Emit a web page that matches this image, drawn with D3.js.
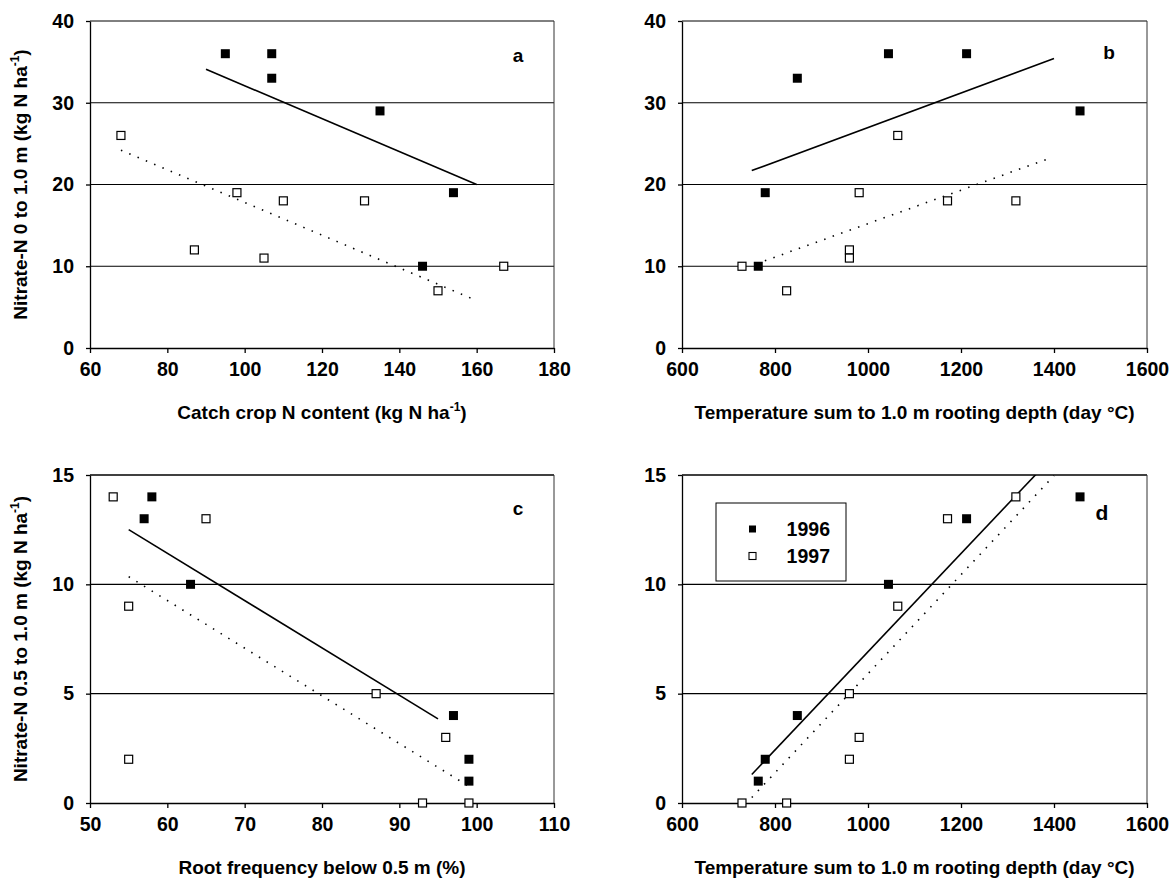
<!DOCTYPE html>
<html>
<head>
<meta charset="utf-8">
<script src="https://cdn.jsdelivr.net/npm/d3@7"></script>
<style>
  body { margin: 0; background: #fff; }
  text { font-family: "Liberation Sans", Arial, sans-serif; font-weight: bold; fill: #000; }
</style>
</head>
<body>
<div id="chart"></div>
<script>
// data
// panel a: catch crop N content vs nitrate-N 0-1.0 m
var catchN96 = [95, 107, 107, 135, 154, 146];
var nitrateA96 = [36, 36, 33, 29, 19, 10];
var catchN97 = [68, 98, 110, 131, 87, 105, 150, 167];
var nitrateA97 = [26, 19, 18, 18, 12, 11, 7, 10];

// panel b: temperature sum vs nitrate-N 0-1.0 m
var tempSum96 = [764, 779, 848, 1044, 1212, 1456];
var nitrateB96 = [10, 19, 33, 36, 36, 29];
var tempSum97 = [729, 825, 960, 960, 981, 1064, 1171, 1318];
var nitrateB97 = [10, 7, 12, 11, 19, 26, 18, 18];

// panel c: root frequency vs nitrate-N 0.5-1.0 m
var rootFreq96 = [58, 57, 63, 97, 99, 99];
var nitrateC96 = [14, 13, 10, 4, 2, 1];
var rootFreq97 = [53, 55, 55, 65, 87, 96, 93, 99];
var nitrateC97 = [14, 9, 2, 13, 5, 3, 0, 0];

// panel d: temperature sum vs nitrate-N 0.5-1.0 m
var nitrateD96 = [1, 2, 4, 10, 13, 14];
var nitrateD97 = [0, 0, 5, 2, 3, 9, 13, 14];

// trend lines (end points)
var trendA96 = [[90, 34.1], [160, 20.0]];
var trendA97 = [[68, 24.2], [159, 6.0]];
var trendB96 = [[750, 21.7], [1400, 35.4]];
var trendB97 = [[760, 10.3], [1390, 23.2]];
var trendC96 = [[55, 12.5], [95, 3.85]];
var trendC97 = [[55, 10.35], [99.5, 0.65]];
var trendD96 = [[750, 1.3], [1400, 15.9]];
var trendD97 = [[750, 0.25], [1400, 14.97]];

var yearLabels = ["1996", "1997"];

var svgWidth = 1171;
var svgHeight = 881;

var svg = d3.select("#chart")
  .append("svg")
  .attr("width", svgWidth)
  .attr("height", svgHeight);

function zip(xs, ys) {
  return xs.map(function(x, i) { return [x, ys[i]]; });
}

var panels = [
  { id: "a", left: 90, right: 554, top: 21, bottom: 348,
    xDomain: [60, 180], xTicks: d3.range(60, 181, 20),
    yDomain: [0, 40], yTicks: d3.range(0, 41, 10),
    filled: zip(catchN96, nitrateA96), open: zip(catchN97, nitrateA97),
    solid: trendA96, dotted: trendA97,
    xTitle: ["Catch crop N content (kg N ha", "-1", ")"],
    yTitle: ["Nitrate-N 0 to 1.0 m (kg N ha", "-1", ")"],
    letter: [518, 62], gridW: 1 },
  { id: "b", left: 682, right: 1147, top: 21, bottom: 348,
    xDomain: [600, 1600], xTicks: d3.range(600, 1601, 200),
    yDomain: [0, 40], yTicks: d3.range(0, 41, 10),
    filled: zip(tempSum96, nitrateB96), open: zip(tempSum97, nitrateB97),
    solid: trendB96, dotted: trendB97,
    xTitle: ["Temperature sum to 1.0 m rooting depth (day \u00B0C)"],
    yTitle: null,
    letter: [1109, 59], gridW: 1 },
  { id: "c", left: 90, right: 554, top: 475, bottom: 803,
    xDomain: [50, 110], xTicks: d3.range(50, 111, 10),
    yDomain: [0, 15], yTicks: d3.range(0, 16, 5),
    filled: zip(rootFreq96, nitrateC96), open: zip(rootFreq97, nitrateC97),
    solid: trendC96, dotted: trendC97,
    xTitle: ["Root frequency below 0.5 m (%)"],
    yTitle: ["Nitrate-N 0.5 to 1.0 m (kg N ha", "-1", ")"],
    letter: [518, 515], gridW: 1.4 },
  { id: "d", left: 682, right: 1147, top: 475, bottom: 803,
    xDomain: [600, 1600], xTicks: d3.range(600, 1601, 200),
    yDomain: [0, 15], yTicks: d3.range(0, 16, 5),
    filled: zip(tempSum96, nitrateD96), open: zip(tempSum97, nitrateD97),
    solid: trendD96, dotted: trendD97,
    xTitle: ["Temperature sum to 1.0 m rooting depth (day \u00B0C)"],
    yTitle: null,
    letter: [1102, 520], gridW: 1.4 }
];

function addTitle(sel, parts) {
  sel.append("tspan").text(parts[0]);
  if (parts.length > 1) {
    sel.append("tspan").attr("font-size", 12).attr("dy", -8).text(parts[1]);
    sel.append("tspan").attr("dy", 8).text(parts[2]);
  }
}

panels.forEach(function(p) {
  var x = d3.scaleLinear().domain(p.xDomain).range([p.left, p.right]);
  var y = d3.scaleLinear().domain(p.yDomain).range([p.bottom, p.top]);
  var g = svg.append("g").attr("class", "panel-" + p.id);

  // horizontal gridlines
  g.selectAll(".grid")
    .data(p.yTicks.slice(1))
    .enter()
    .append("line")
    .attr("x1", p.left)
    .attr("x2", p.right)
    .attr("y1", d => y(d))
    .attr("y2", d => y(d))
    .attr("stroke", "#000")
    .attr("stroke-width", p.gridW);

  // right border
  g.append("line")
    .attr("x1", p.right).attr("x2", p.right)
    .attr("y1", p.top).attr("y2", p.bottom)
    .attr("stroke", "#333")
    .attr("stroke-width", 1);

  // axes
  var bottomAxis = d3.axisBottom(x).tickValues(p.xTicks).tickFormat(d3.format("d"))
    .tickSize(5).tickSizeOuter(0);
  var leftAxis = d3.axisLeft(y).tickValues(p.yTicks).tickFormat(d3.format("d"))
    .tickSize(4).tickSizeOuter(0);

  var xAxis = g.append("g")
    .attr("transform", `translate(0, ${p.bottom})`)
    .call(bottomAxis);
  xAxis.selectAll("text")
    .attr("font-size", 19.5)
    .attr("y", 14)
    .attr("dy", "0.71em");

  var yAxis = g.append("g")
    .attr("transform", `translate(${p.left}, 0)`)
    .call(leftAxis);
  yAxis.selectAll("text")
    .attr("font-size", 19.5)
    .attr("x", -16);

  g.selectAll(".domain, .tick line")
    .attr("stroke", "#000")
    .attr("stroke-width", 1.3);
  g.selectAll(".tick text").attr("fill", "#000").attr("font-family", null);

  // trend lines, clipped to the plot box
  g.append("clipPath")
    .attr("id", "clip-" + p.id)
    .append("rect")
    .attr("x", p.left).attr("y", p.top)
    .attr("width", p.right - p.left).attr("height", p.bottom - p.top);

  var drawLine = d3.line().x(d => x(d[0])).y(d => y(d[1]));

  g.append("path")
    .datum(p.solid)
    .attr("clip-path", "url(#clip-" + p.id + ")")
    .attr("d", drawLine)
    .attr("fill", "none")
    .attr("stroke", "#000")
    .attr("stroke-width", 1.6);

  g.append("path")
    .datum(p.dotted)
    .attr("clip-path", "url(#clip-" + p.id + ")")
    .attr("d", drawLine)
    .attr("fill", "none")
    .attr("stroke", "#000")
    .attr("stroke-width", 1.6)
    .attr("stroke-dasharray", "1.5,7.5");

  // 1997 open squares
  g.selectAll(".open")
    .data(p.open)
    .enter()
    .append("rect")
    .attr("x", d => x(d[0]) - 4)
    .attr("y", d => y(d[1]) - 4)
    .attr("width", 8)
    .attr("height", 8)
    .attr("fill", "#fff")
    .attr("stroke", "#000")
    .attr("stroke-width", 1.2);

  // 1996 filled squares
  g.selectAll(".filled")
    .data(p.filled)
    .enter()
    .append("rect")
    .attr("x", d => x(d[0]) - 4.5)
    .attr("y", d => y(d[1]) - 4.5)
    .attr("width", 9)
    .attr("height", 9)
    .attr("fill", "#000");

  // panel letter
  g.append("text")
    .attr("x", p.letter[0])
    .attr("y", p.letter[1])
    .attr("text-anchor", "middle")
    .attr("font-size", p.id === "d" ? 21 : 19)
    .text(p.id);

  // axis titles
  var xt = g.append("text")
    .attr("x", (p.left + p.right) / 2)
    .attr("y", p.bottom + 71)
    .attr("text-anchor", "middle")
    .attr("font-size", 19);
  addTitle(xt, p.xTitle);

  if (p.yTitle) {
    var yt = g.append("text")
      .attr("transform", `translate(27, ${(p.top + p.bottom) / 2}) rotate(-90)`)
      .attr("text-anchor", "middle")
      .attr("font-size", 19);
    addTitle(yt, p.yTitle);
  }

  // legend in panel d
  if (p.id === "d") {
    var legend = g.append("g");
    legend.append("rect")
      .attr("x", 716).attr("y", 503)
      .attr("width", 130).attr("height", 78)
      .attr("fill", "#fff")
      .attr("stroke", "#000")
      .attr("stroke-width", 1);
    yearLabels.forEach(function(label, i) {
      var ly = 529 + i * 27;
      legend.append("rect")
        .attr("x", 749).attr("y", ly - 3.5)
        .attr("width", 7).attr("height", 7)
        .attr("fill", i === 0 ? "#000" : "#fff")
        .attr("stroke", "#000")
        .attr("stroke-width", i === 0 ? 0 : 1.1);
      legend.append("text")
        .attr("x", 830).attr("y", ly + 7)
        .attr("text-anchor", "end")
        .attr("font-size", 19.5)
        .text(label);
    });
  }
});
</script>
</body>
</html>
